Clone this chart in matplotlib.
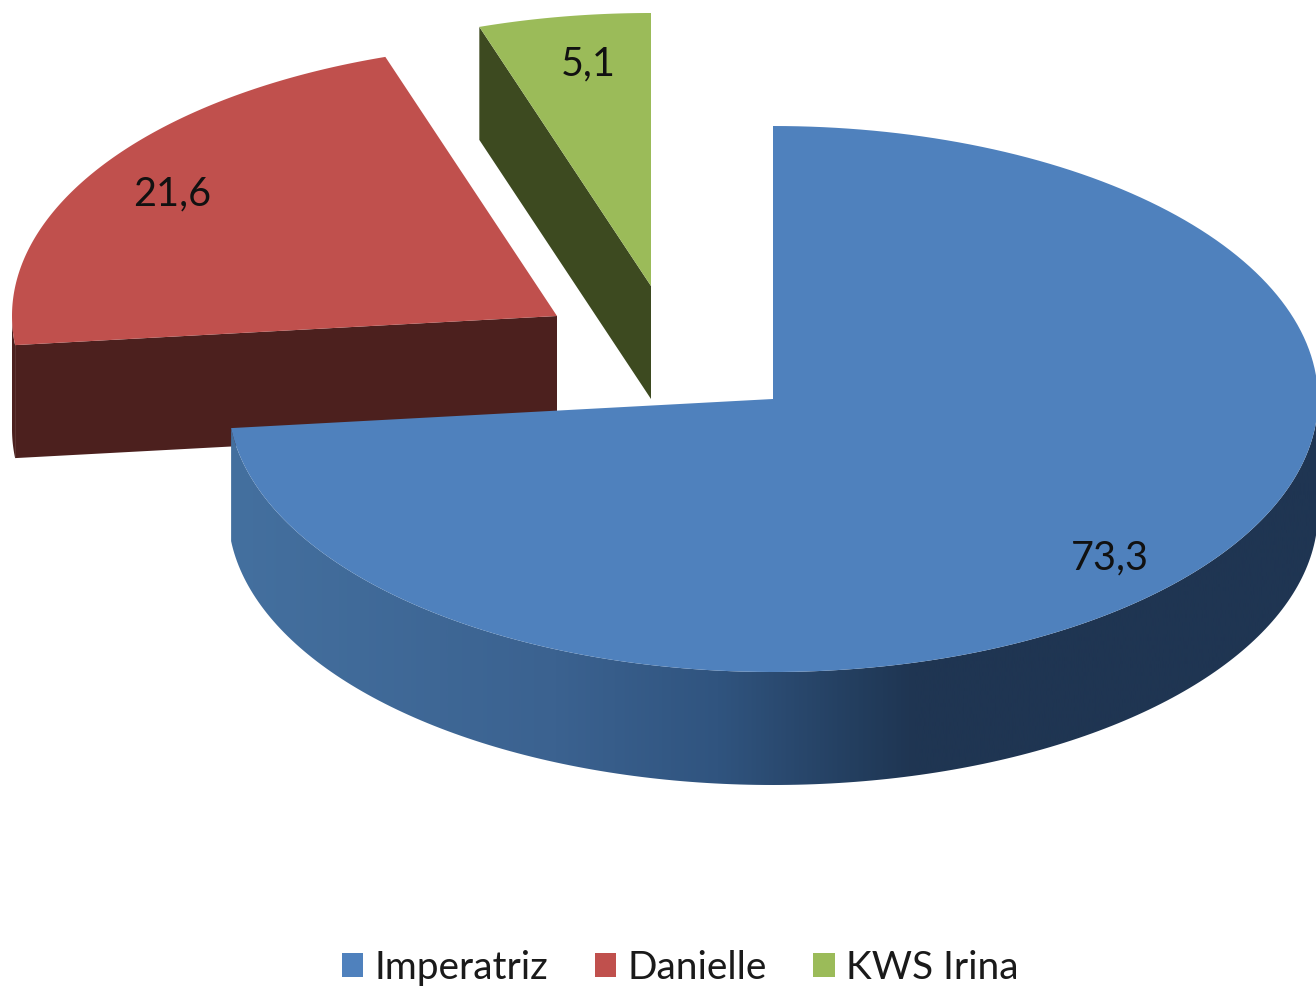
import numpy as np
import matplotlib
matplotlib.use("Agg")
import matplotlib.pyplot as plt
from matplotlib.patches import Polygon, Patch
from matplotlib.colors import LinearSegmentedColormap

labels = ["Imperatriz", "Danielle", "KWS Irina"]
values = [73.3, 21.6, 5.1]
value_text = ["73,3", "21,6", "5,1"]

top_colors = ["#4F81BD", "#C0504D", "#9BBB59"]
side_colors = ["#1F3552", "#4C201E", "#3D4A20"]

# pie geometry in image pixels
rx, ry = 545, 273
depth = 113
centers = [(773, 399), (557, 316), (651, 286)]
label_pos = [(1110, 558), (172, 194), (588, 64)]

plt.rcParams["font.family"] = ["Lato", "DejaVu Sans"]

fig = plt.figure(figsize=(13.16, 9.86), dpi=100)
ax = fig.add_axes([0, 0, 1, 1])
ax.set_xlim(0, 1316)
ax.set_ylim(986, 0)
ax.axis("off")


def arc(c, a1, a2, n=200):
    # angles in degrees, clockwise from 12 o'clock
    t = np.radians(np.linspace(a1, a2, n))
    return np.column_stack([c[0] + rx*np.sin(t), c[1] - ry*np.cos(t)])


def wall(c, a1, a2):
    pts = arc(c, a1, a2)
    return np.vstack([pts, (pts + [0, depth])[::-1]])


edges = np.cumsum([0] + values) / sum(values) * 360

# draw back to front
for i in [2, 1, 0]:
    c = centers[i]
    a1, a2 = edges[i], edges[i+1]
    z = 10 - i*3

    # cut face on the side of the slice that looks at the viewer
    if i > 0:
        p = arc(c, a1, a1, 1)[0]
        face = [p, c, (c[0], c[1]+depth), (p[0], p[1]+depth)]
        ax.add_patch(Polygon(face, color=side_colors[i], lw=0, zorder=z))

    # outer wall, only the part facing the viewer
    lo, hi = max(a1, 90), min(a2, 270)
    if hi > lo:
        if i == 0:
            cmap = LinearSegmentedColormap.from_list(
                "wall", [(0, "#44709F"), (0.3, "#3B6290"), (0.45, "#30547F"), (0.6, "#213A59"), (0.63, "#1F3552"), (1, "#1F3552")])
            im = ax.imshow(np.linspace(0, 1, 512)[None, :], extent=[228, 1318, 986, 0],
                           cmap=cmap, aspect="auto", zorder=z)
            clip = Polygon(wall(c, lo, hi), transform=ax.transData)
            im.set_clip_path(clip)
            ax.set_xlim(0, 1316)
            ax.set_ylim(986, 0)
        else:
            ax.add_patch(Polygon(wall(c, lo, hi), color=side_colors[i], lw=0, zorder=z))

    # top surface
    top = np.vstack([[c], arc(c, a1, a2)])
    ax.add_patch(Polygon(top, color=top_colors[i], lw=0, zorder=z+1))

    ax.text(label_pos[i][0], label_pos[i][1], value_text[i], fontsize=28.5, color="#111111",
            ha="center", va="center", zorder=20)

handles = [Patch(color=col, lw=0) for col in top_colors]
ax.legend(handles, labels, ncol=3, frameon=False, fontsize=28, loc="center",
          bbox_to_anchor=(680/1316, 1-968/986), handlelength=0.56, handleheight=0.56,
          handletextpad=0.28, columnspacing=1.2, labelcolor="#1A1A1A",
          borderpad=0, borderaxespad=0)

fig.savefig("out.png", dpi=100)
